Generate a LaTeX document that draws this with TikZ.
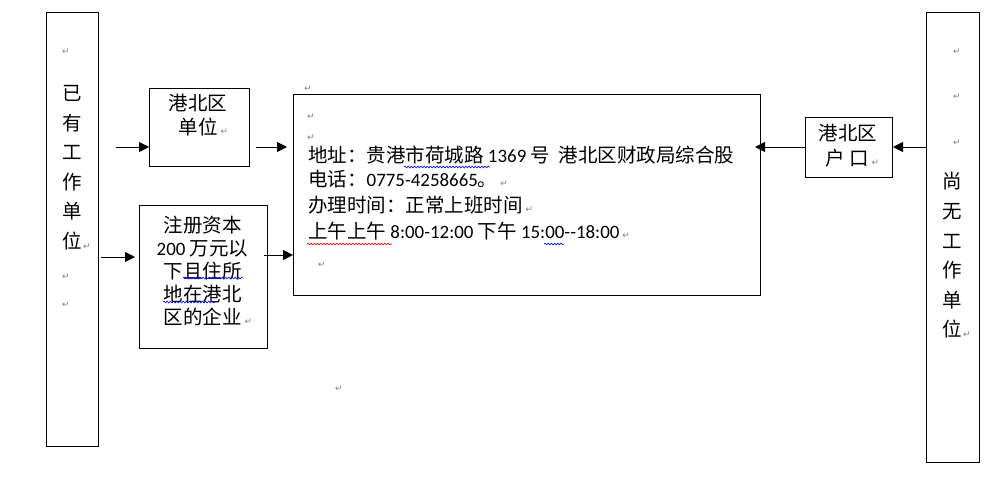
\documentclass[tikz,border=0pt]{standalone}
\usepackage{fontspec}
\setmainfont{Noto Sans CJK SC}
\newfontfamily\enf[Scale=0.97]{Carlito}
\newfontfamily\symf{DejaVu Sans}
\usetikzlibrary{arrows.meta,decorations.pathmorphing}
\definecolor{markgray}{RGB}{128,128,128}
\newcommand\retmark{\rlap{\hspace{3pt}\symf\color{markgray}\fontsize{9}{9}\selectfont ↵}}
\tikzset{
  frame/.style={draw, line width=1pt, inner sep=0pt, anchor=north west},
  txt/.style={inner sep=0pt, text height=0.86em, text depth=0.1em},
  ret/.style={inner sep=0pt, text=markgray, font=\symf\fontsize{9}{9}\selectfont},
  arr/.style={-{Triangle[length=10pt,width=10pt]}, line width=1pt},
  squig/.style={line width=0.6pt, decorate, decoration={snake, amplitude=0.9pt, segment length=3.2pt}},
}
\begin{document}
\begin{tikzpicture}[x=1pt, y=-1pt, font=\fontsize{19.5}{23}\selectfont]
  \useasboundingbox (0,0) rectangle (1004,480);
  \node[frame, minimum width=52pt, minimum height=434pt] (hasjob) at (46,12) {};
  \node[frame, minimum width=100pt, minimum height=78pt] (unit) at (149,88) {};
  \node[frame, minimum width=128pt, minimum height=143pt] (reg) at (139,205) {};
  \node[frame, minimum width=467pt, minimum height=201pt] (office) at (293,94) {};
  \node[frame, minimum width=87pt, minimum height=60pt] (hukou) at (805,117) {};
  \node[frame, minimum width=53pt, minimum height=450pt] (nojob) at (926,12) {};

  \foreach \ch [count=\i] in {已,有,工,作,单,位}
    \node[txt] (hj\i) at (72,{67+29.6*\i}) {\ch};
  \foreach \ch [count=\i] in {尚,无,工,作,单,位}
    \node[txt] (nj\i) at (952,{155.4+29.6*\i}) {\ch};

  \node[txt] (unitA) at (198,107) {港北区};
  \node[txt] (unitB) at (198,131) {单位\retmark};
  \node[txt] (hukouA) at (848,137) {港北区};
  \node[txt] (hukouB) at (847,162) {户\ 口\retmark};
  \node[align=center, inner sep=0pt] (regtxt) at (202.5,271)
    {注册资本\\{\enf 200 }万元以\\下且住所\\地在港北\\区的企业\retmark};

  \node[txt, anchor=west] (addr) at (308,159) {地址：贵港市荷城路{\enf\ 1369\ }号{\enf\ \ }港北区财政局综合股};
  \node[txt, anchor=west] (tel) at (308,183) {电话：{\enf 0775-4258665}。\retmark};
  \node[txt, anchor=west] (hours) at (308,209) {办理时间：正常上班时间\retmark};
  \node[txt, anchor=west] (times) at (308,235) {上午上午{\enf\ 8:00-12:00\ }下午{\enf\ 15:00-{}-18:00}\retmark};

  \node[ret] (hjr0) at (66,52) {↵};
  \node[ret] (hjr1) at (87,247) {↵};
  \node[ret] (hjr2) at (66,277) {↵};
  \node[ret] (hjr3) at (66,305) {↵};
  \node[ret] (njr0) at (957,52) {↵};
  \node[ret] (njr1) at (957,97) {↵};
  \node[ret] (njr2) at (957,143) {↵};
  \node[ret] (njr3) at (967,335) {↵};
  \node[ret] (ofr0) at (308,89) {↵};
  \node[ret] (ofr1) at (311,117) {↵};
  \node[ret] (ofr2) at (311,138) {↵};
  \node[ret] (ofr3) at (322,265) {↵};
  \node[ret] (free) at (339,389) {↵};

  \coordinate (row1) at (0,147);
  \coordinate (row2) at (0,257);
  \coordinate (row3) at (0,255);
  \draw[arr, shorten <=17pt] (hasjob.east |- row1) -- (unit.west |- row1);
  \draw[arr, shorten <=6pt, shorten >=6pt] (unit.east |- row1) -- (office.west |- row1);
  \draw[arr, shorten <=2pt, shorten >=4pt] (hasjob.east |- row2) -- (reg.west |- row2);
  \draw[arr, shorten <=-4pt] (reg.east |- row3) -- (office.west |- row3);
  \draw[arr] (nojob.west |- row1) -- (hukou.east |- row1);
  \draw[arr, shorten >=-6pt] (hukou.west |- row1) -- (office.east |- row1);

  \draw[squig, blue] (183,278) -- (243,278);
  \draw[squig, blue] (163,302) -- (215,302);
  \draw[squig, blue] (404,167) -- (490,167);
  \draw[squig, red] (307,244) -- (392,244);
  \draw[squig, blue] (544,244) -- (564,244);
\end{tikzpicture}
\end{document}
